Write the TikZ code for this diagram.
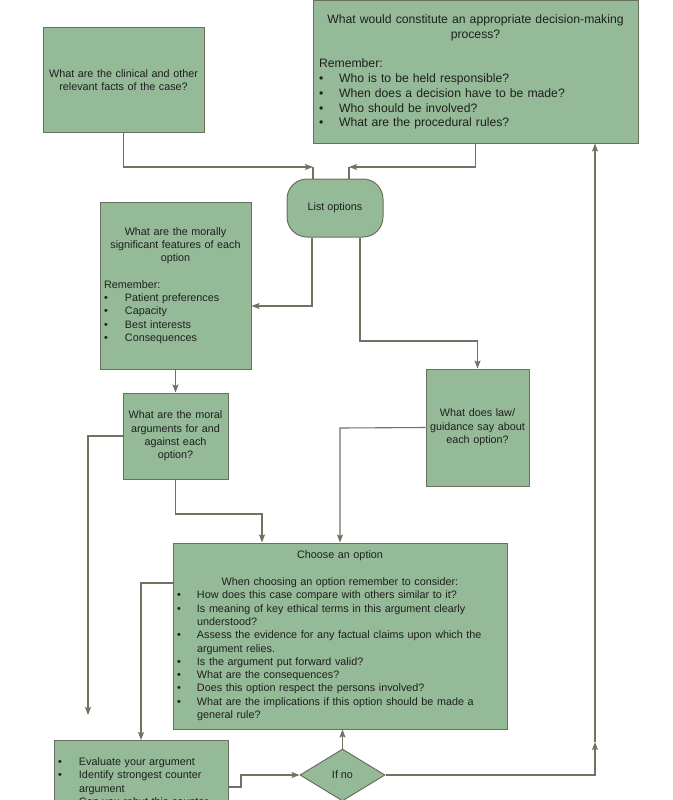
\documentclass[tikz,border=0pt]{standalone}
\usepackage{fontspec}
\setmainfont{Liberation Sans}
\usepackage{xcolor}
\usepackage{tikz}
\usetikzlibrary{shapes.geometric}
\usetikzlibrary{arrows.meta}
\definecolor{boxgreen}{RGB}{149,186,152}
\definecolor{boxline}{RGB}{108,110,96}
\definecolor{linkgrey}{RGB}{112,114,98}
\tikzset{green box/.style={draw=boxline, fill=boxgreen, line width=1pt, inner sep=0, text=black!88, font=\fontsize{10.8}{13.3}\selectfont}}
\tikzset{link/.style={draw=linkgrey, line width=1.1pt}}
\tikzset{tip/.style={-{Stealth[length=8pt,width=6pt,inset=1.5pt]}}}
\newcommand{\bul}[2][21pt]{\par\hangindent=#1\hangafter=1\noindent\makebox[#1][l]{\textbullet}#2}

\begin{document}
\begin{tikzpicture}[x=1pt, y=-1pt]
  \useasboundingbox (0,0) rectangle (672,800);
  \clip (0,0) rectangle (672,800);

  \node[green box, minimum width=161, minimum height=104, text width=155, align=center] at (123.5, 80) (facts)
    {What are the clinical and other\\relevant facts of the case?};
  \node[green box, minimum width=325, minimum height=142, text width=313, font=\fontsize{12.2}{14.8}\selectfont] at (475.5, 72) (process)
    {\centering What would constitute an appropriate decision-making\\process?\par
     \vspace{14.8pt}\raggedright Remember:
     \bul[20pt]{Who is to be held responsible?}
     \bul[20pt]{When does a decision have to be made?}
     \bul[20pt]{Who should be involved?}
     \bul[20pt]{What are the procedural rules?}\par};

  \node[green box, minimum width=96, minimum height=58, rounded corners=20pt] at (335, 208) (list) {List options};

  \node[green box, minimum width=151, minimum height=167, text width=143] at (175.5, 285.5) (features)
    {\centering What are the morally\\significant features of each\\option\par
     \vspace{13.3pt}\raggedright Remember:
     \bul{Patient preferences}
     \bul{Capacity}
     \bul{Best interests}
     \bul{Consequences}\par};
  \node[green box, minimum width=103, minimum height=117, text width=101, align=center] at (477.5, 427.5) (law)
    {What does law/\\guidance say about\\each option?};
  \node[green box, minimum width=105, minimum height=86, text width=101, align=center] at (175.5, 436) (args)
    {What are the moral\\arguments for and\\against each\\option?};

  \node[green box, minimum width=334, minimum height=186, text width=326] at (340, 636) (choose)
    {\centering Choose an option\par
     \vspace{13.3pt}When choosing an option remember to consider:\par\raggedright
     \bul[20pt]{How does this case compare with others similar to it?}
     \bul[20pt]{Is meaning of key ethical terms in this argument clearly\newline understood?}
     \bul[20pt]{Assess the evidence for any factual claims upon which the\newline argument relies.}
     \bul[20pt]{Is the argument put forward valid?}
     \bul[20pt]{What are the consequences?}
     \bul[20pt]{Does this option respect the persons involved?}
     \bul[20pt]{What are the implications if this option should be made a\newline general rule?}\par};

  \node[green box, minimum width=174, minimum height=94, text width=166, anchor=north] at (141, 740) (evaluate)
    {\raggedright
     \bul{Evaluate your argument}
     \bul{Identify strongest counter\newline argument}
     \bul{Can you rebut this counter}\par\strut};
  \node[green box, diamond, aspect=1.63, minimum width=85, minimum height=52] at (342.5, 775) (ifno) {If no};

  % corner points of the connectors
  \coordinate (ina) at (313, 167);
  \coordinate (inb) at (349, 167);
  \coordinate (la) at (312, 306);
  \coordinate (lb) at (360, 341);
  \coordinate (ac) at (262, 514);
  \coordinate (lc) at (340, 428);
  \coordinate (ad) at (88, 436);
  \coordinate (adend) at (88, 715);
  \coordinate (ce) at (141, 583);
  \coordinate (ei) at (241, 787);
  \coordinate (ip) at (595, 742);

  \draw[link, tip] (facts.south) |- (ina);
  \draw[link] (ina) -- (ina |- list.north);
  \draw[link, tip] (process.south) |- (inb);
  \draw[link] (inb) -- (inb |- list.north);

  \draw[link, tip] (la |- list.south) -- (la) -- (la -| features.east);
  \draw[link, tip] (lb |- list.south) -- (lb) -| (law.north);
  \draw[link, tip] (features.south) -- (args.north);
  \draw[link, tip] (args.south) |- (ac) -- (ac |- choose.north);
  \draw[link, tip] (law.west) -- (lc) -- (lc |- choose.north);
  \draw[link, tip] (args.west) -- (ad) -- (adend);

  \draw[link, tip] (choose.west |- ce) -- (ce) -- (ce |- evaluate.north);
  \draw[link, tip] (ifno.north) -- (ifno.north |- choose.south);
  \draw[link, tip] (evaluate.east |- ei) -- (ei) |- (ifno.west);
  \draw[link, tip] (ifno.east) -| (ip);
  \draw[link, tip] (ip) -- (ip |- process.south);
\end{tikzpicture}
\end{document}
